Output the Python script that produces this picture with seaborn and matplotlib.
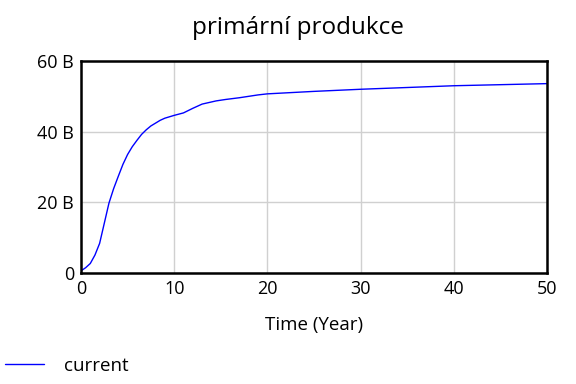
import matplotlib
matplotlib.use("Agg")
import matplotlib.pyplot as plt
import matplotlib.ticker as mticker
import pandas as pd
import seaborn as sns

# data (billions)
years = [0, 0.5, 1, 1.5, 2, 2.5, 3, 3.5, 4, 4.5, 5, 5.5, 6, 6.5, 7, 7.5, 8.5, 9, 10, 11, 12, 13,
         14.5, 15.5, 17, 18, 19, 20, 25, 30, 35, 40, 45, 50]
current = [0.5, 1.4, 2.6, 5.0, 8.3, 14.0, 19.7, 23.8, 27.3, 30.7, 33.5, 35.7, 37.5, 39.2, 40.5, 41.6, 43.2,
           43.8, 44.6, 45.3, 46.6, 47.8, 48.7, 49.1, 49.6, 50.0, 50.4, 50.7, 51.4, 52.0, 52.5, 53.0, 53.3, 53.6]

df = pd.DataFrame({"Time": years, "current": [v * 1e9 for v in current]})

sns.set_style("whitegrid")
plt.rcParams["font.family"] = ["Open Sans", "DejaVu Sans"]
plt.rcParams["text.color"] = "black"
plt.rcParams["axes.labelcolor"] = "black"

fig = plt.figure(figsize=(5.76, 3.84), dpi=100)
ax = fig.add_axes([0.1406, 0.290, 0.809, 0.551])

sns.lineplot(data=df, x="Time", y="current", color="#0000ff", linewidth=1.0, ax=ax, label="current", legend=False)

ax.set_xlim(0, 50)
ax.set_ylim(0, 60e9)
ax.set_xticks([0, 10, 20, 30, 40, 50])
ax.set_yticks([0, 20e9, 40e9, 60e9])
ax.yaxis.set_major_formatter(mticker.FuncFormatter(lambda v, p: "0" if v == 0 else "{:.0f} B".format(v / 1e9)))
ax.grid(True, color="#d0d0d0", linewidth=1.0)
for s in ax.spines.values():
    s.set_color("black")
    s.set_linewidth(1.8)
ax.tick_params(axis="both", labelsize=13, length=0, pad=5, colors="black")

fig.text(297.5 / 576, 1 - 28 / 384, "primární produkce", fontsize=17.5, ha="center", va="center", color="black")
ax.set_xlabel("Time (Year)", fontsize=13.5, labelpad=13)
ax.set_ylabel("")

h, l = ax.get_legend_handles_labels()
fig.legend(h, l, loc="center left", bbox_to_anchor=(5 / 576, 1 - 366 / 384), frameon=False,
           fontsize=13.5, handlelength=2.1, handletextpad=1.05, borderpad=0, borderaxespad=0)

fig.savefig("out.png", dpi=100)
